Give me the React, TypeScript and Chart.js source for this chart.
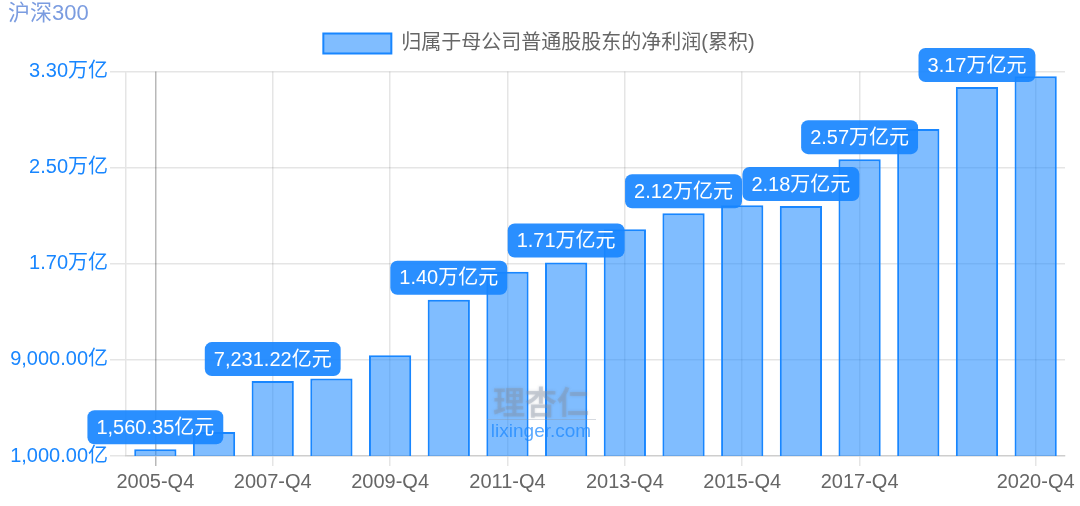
import { useEffect, useRef } from "react"
import { Chart, type ChartConfiguration, type Plugin, registerables } from "chart.js"

Chart.register(...registerables)

const quarters = [
  "2005-Q4", "2006-Q4", "2007-Q4", "2008-Q4", "2009-Q4", "2010-Q4", "2011-Q4", "2012-Q4",
  "2013-Q4", "2014-Q4", "2015-Q4", "2016-Q4", "2017-Q4", "2018-Q4", "2019-Q4", "2020-Q4",
]
// 亿
const netProfit = [
  1560.35, 3000, 7231.22, 7440, 9390, 14000, 16330, 17100,
  19860, 21200, 21860, 21800, 25700, 28215, 31700, 32600,
]
const calloutIndexes = [0, 2, 5, 7, 9, 11, 12, 14]
const shownTicks = [0, 2, 4, 6, 8, 10, 12, 15]

const FONT = '"Liberation Sans", "Noto Sans CJK SC", sans-serif'
const BLUE = "rgb(24, 134, 255)"

function formatYi(v: number) {
  if (v >= 10000) return (v / 10000).toFixed(2) + "万亿"
  return v.toLocaleString("en-US", { minimumFractionDigits: 2, maximumFractionDigits: 2 }) + "亿"
}

// extra room under the legend
const legendGap: Plugin<"bar"> = {
  id: "legendGap",
  beforeInit(chart) {
    const legend = chart.legend as any
    const fit = legend.fit
    legend.fit = function () {
      fit.call(this)
      this.height += 8
    }
  },
}

const callouts: Plugin<"bar"> = {
  id: "callouts",
  afterDatasetsDraw(chart) {
    const { ctx } = chart
    const bars = chart.getDatasetMeta(0).data
    ctx.save()
    ctx.font = `20px ${FONT}`
    ctx.textAlign = "center"
    ctx.textBaseline = "middle"
    for (const i of calloutIndexes) {
      const text = formatYi(netProfit[i]) + "元"
      const w = ctx.measureText(text).width + 18
      const cx = bars[i].x
      const cy = bars[i].y - 22
      ctx.fillStyle = "rgba(24, 134, 255, 0.92)"
      ctx.beginPath()
      ctx.roundRect(cx - w / 2, cy - 17, w, 34, 7)
      ctx.fill()
      ctx.fillStyle = "#fff"
      ctx.fillText(text, cx, cy + 1)
    }
    ctx.restore()
  },
}

const watermark: Plugin<"bar"> = {
  id: "watermark",
  afterDatasetsDraw(chart) {
    const { ctx } = chart
    ctx.save()
    ctx.textAlign = "center"
    ctx.textBaseline = "middle"
    ctx.globalAlpha = 0.35
    ctx.fillStyle = "#8a94a6"
    ctx.shadowColor = "rgba(90, 100, 120, 0.6)"
    ctx.shadowBlur = 3
    ctx.font = `bold 32px "Noto Sans CJK SC", sans-serif`
    ctx.fillText("理杏仁", 541, 402)
    ctx.shadowBlur = 0
    ctx.fillRect(487, 419, 109, 1)
    ctx.globalAlpha = 0.7
    ctx.fillStyle = BLUE
    ctx.font = `19px ${FONT}`
    ctx.fillText("lixinger.com", 541, 432)
    ctx.restore()
  },
}

export default function App() {
  const chartRef = useRef<HTMLCanvasElement>(null)

  useEffect(() => {
    if (!chartRef.current) return
    const ctx = chartRef.current.getContext("2d")
    if (!ctx) return

    const config: ChartConfiguration<"bar"> = {
      type: "bar",
      data: {
        labels: quarters,
        datasets: [
          {
            label: "归属于母公司普通股股东的净利润(累积)",
            data: netProfit,
            backgroundColor: "rgba(24, 134, 255, 0.55)",
            borderColor: BLUE,
            borderWidth: 2,
            barPercentage: 0.9,
            categoryPercentage: 0.8,
          },
        ],
      },
      options: {
        responsive: false,
        animation: false,
        layout: { padding: { left: 8, right: 10, top: 0, bottom: 0 } },
        plugins: {
          tooltip: { enabled: false },
          title: {
            display: true,
            text: "沪深300",
            align: "start",
            color: "#7b9ce0",
            font: { family: FONT, size: 22, weight: "normal" },
            padding: { top: 1, bottom: 0 },
          },
          legend: {
            position: "top",
            labels: {
              color: "#666666",
              boxWidth: 68,
              boxHeight: 20,
              padding: 6,
              font: { family: FONT, size: 20 },
            },
          },
        },
        scales: {
          x: {
            afterFit: (scale) => {
              scale.height = 50
            },
            afterBuildTicks: (scale) => {
              scale.ticks = shownTicks.map((value) => ({ value }))
            },
            border: { width: 1.5 },
            grid: {
              offset: false,
              tickLength: 10,
              lineWidth: 1.5,
              color: (c) => (c.index === 0 ? "rgba(0, 0, 0, 0.28)" : "rgba(0, 0, 0, 0.1)"),
            },
            ticks: {
              autoSkip: false,
              maxRotation: 0,
              color: "#666666",
              padding: 4,
              font: { family: FONT, size: 20 },
            },
          },
          y: {
            min: 1000,
            max: 33000,
            afterFit: (scale) => {
              scale.width = 118
            },
            border: { width: 1.5 },
            grid: { tickLength: 16, lineWidth: 1.5, color: "rgba(0, 0, 0, 0.1)" },
            ticks: {
              stepSize: 8000,
              color: BLUE,
              padding: 2,
              font: { family: FONT, size: 20 },
              callback: (v) => formatYi(Number(v)),
            },
          },
          // empty axis, only keeps the plot's right edge clear of the legend centring
          spacer: {
            position: "right",
            afterFit: (scale) => {
              scale.width = 5
            },
            grid: { display: false },
            border: { display: false },
            ticks: { display: false },
          },
        },
      },
      plugins: [legendGap, callouts, watermark],
    }

    const chart = new Chart(ctx, config)
    return () => chart.destroy()
  }, [])

  return (
    <div style={{ position: "absolute", left: 0, top: 0, width: 1080, height: 506, background: "#fff" }}>
      <canvas ref={chartRef} width={1080} height={506} />
    </div>
  )
}
